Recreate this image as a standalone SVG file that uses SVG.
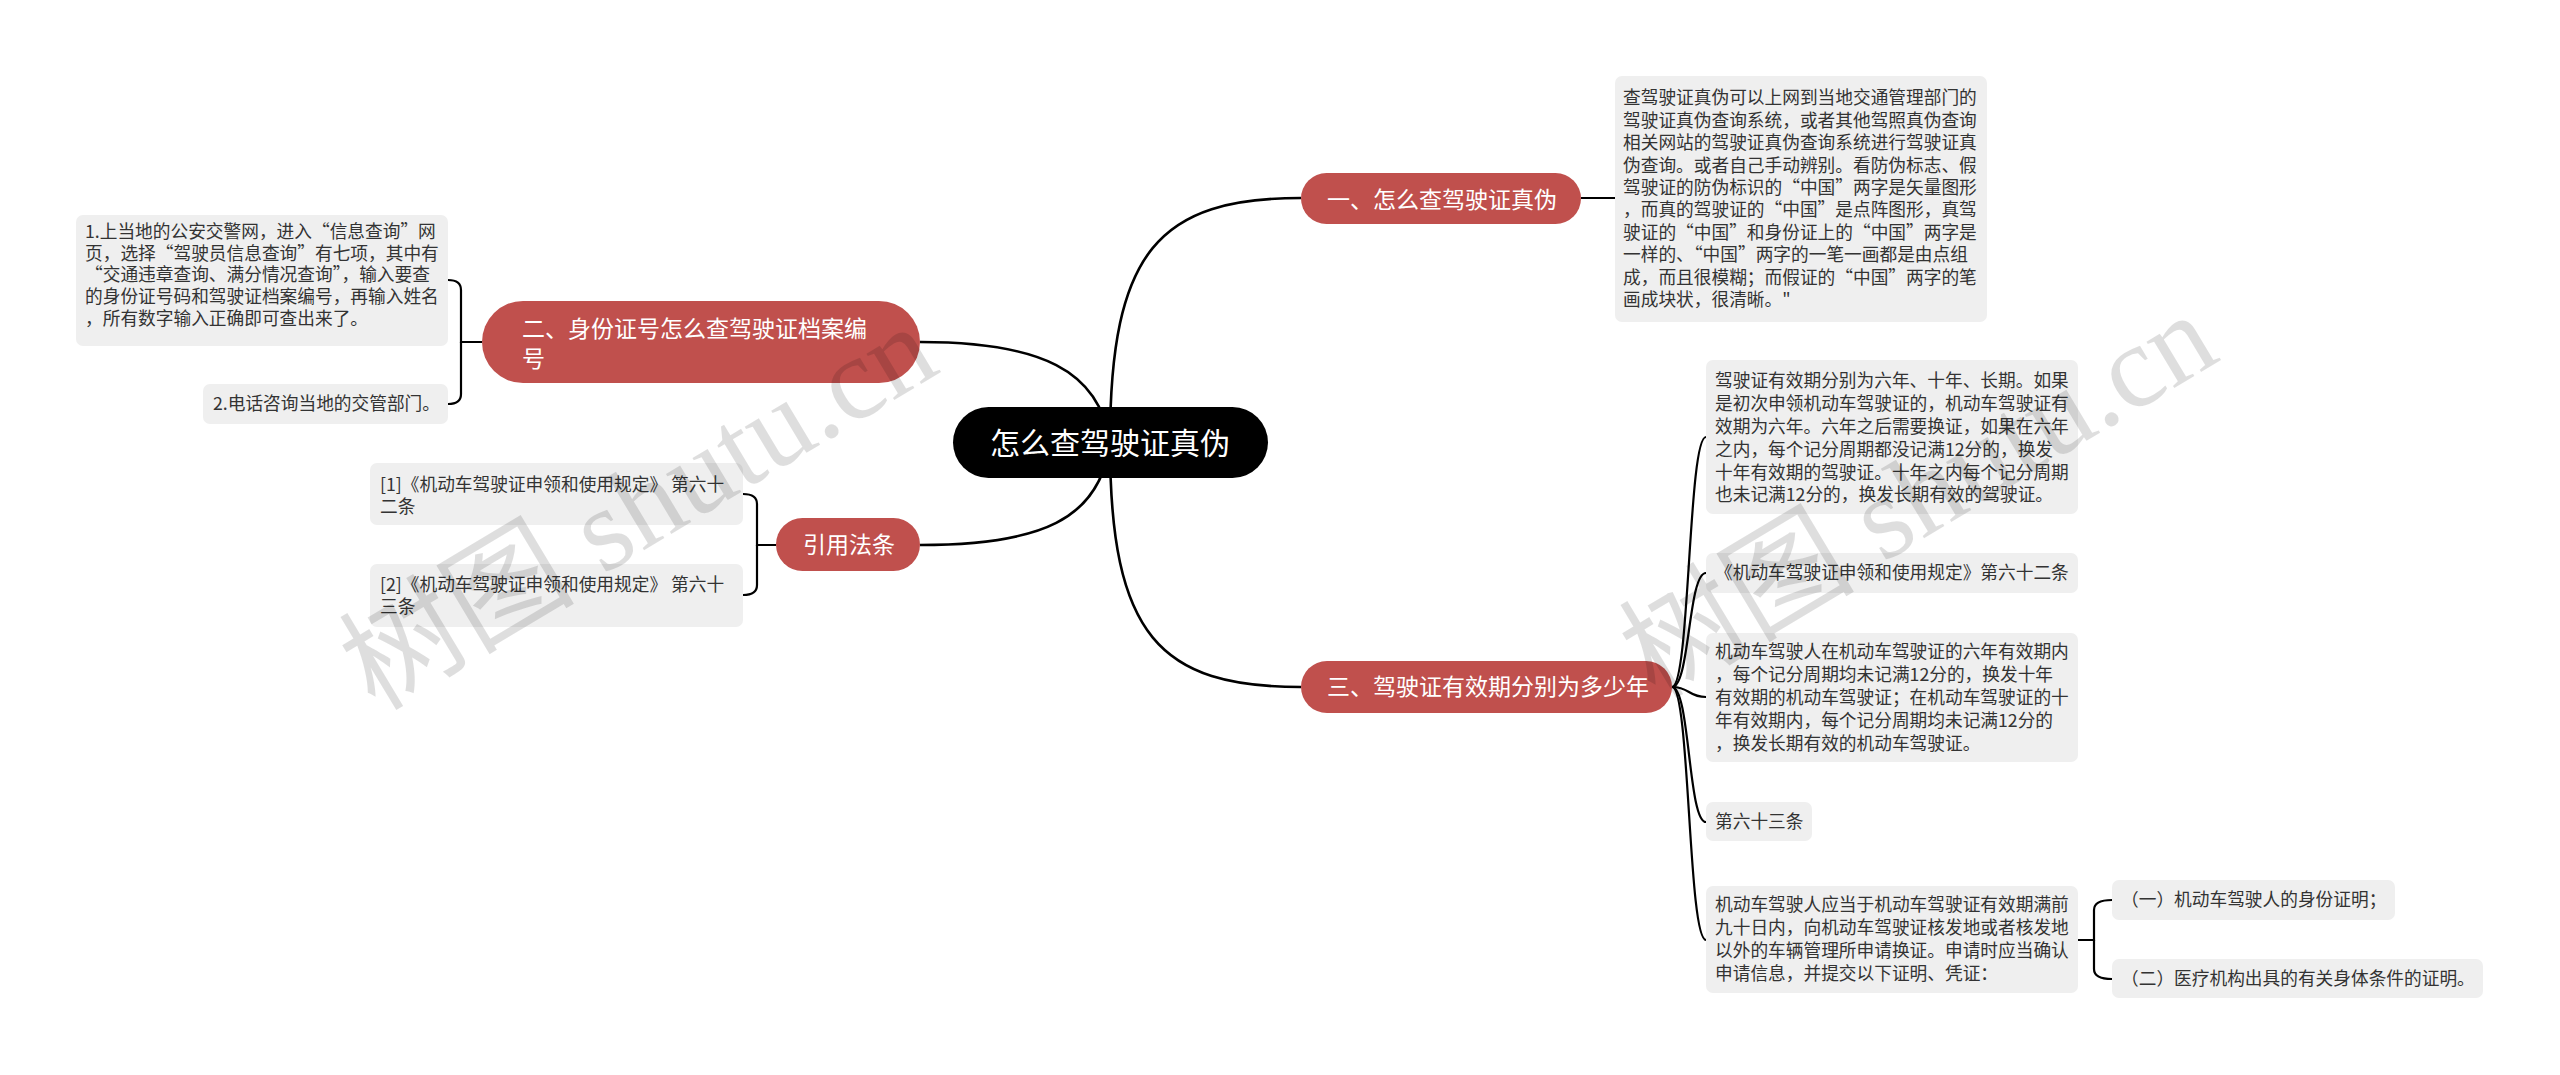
<svg xmlns="http://www.w3.org/2000/svg" width="2560" height="1075" viewBox="0 0 2560 1075">
<style>
text{font-family:"Noto Sans CJK SC","Noto Sans",sans-serif}
.link{fill:none;stroke:#000;stroke-width:2.2}
.main{fill:none;stroke:#000;stroke-width:2.6}
.leaf rect{fill:#efefef}
.leaf text{fill:#333;font-size:17.7px}
.br rect{fill:#c0504d}
.br text{fill:#fff;font-size:23px}
.wm{font-family:"Liberation Serif","Noto Sans CJK SC",serif;font-size:118px;fill:#000;fill-opacity:0.13}
</style>
<rect width="2560" height="1075" fill="#fff"/>
<g id="connectors">
<path class="main" d="M1110,443 C1110,250 1160,198 1301,198"/>
<path class="main" d="M1110,443 C1110,636 1160,687 1301,687"/>
<path class="main" d="M1110,443 C1100,370 1040,342 920,342"/>
<path class="main" d="M1110,443 C1100,520 1040,545 920,545"/>
<path class="link" d="M1581,198 H1615"/>
<path class="link" d="M1672,687 C1690,687 1688,437 1706,437"/>
<path class="link" d="M1672,687 C1690,687 1688,573 1706,573"/>
<path class="link" d="M1672,687 C1690,687 1688,697 1706,697"/>
<path class="link" d="M1672,687 C1690,687 1688,822 1706,822"/>
<path class="link" d="M1672,687 C1690,687 1688,940 1706,940"/>
<path class="link" d="M2078,940 H2094 V910 Q2094,900 2112,900"/>
<path class="link" d="M2094,940 V969 Q2094,979 2112,979"/>
<path class="link" d="M482,342 H461 V290 Q461,280 448,280"/>
<path class="link" d="M461,342 V394 Q461,404 448,404"/>
<path class="link" d="M776,545 H757 V504 Q757,494 743,494"/>
<path class="link" d="M757,545 V585 Q757,595 743,595"/>
</g>
<g id="root">
<rect x="953" y="407" width="315" height="71" rx="35.5" fill="#000"/>
<text x="990" y="453.5" fill="#fff" font-size="30">怎么查驾驶证真伪</text>
</g>
<g id="b1" class="br">
<rect x="1301" y="173" width="280" height="51" rx="25.5"/>
<text x="1327" y="207.5">一、怎么查驾驶证真伪</text>
</g>
<g id="b2" class="br">
<rect x="482" y="301" width="438" height="82" rx="41"/>
<text x="522" y="337">二、身份证号怎么查驾驶证档案编</text>
<text x="522" y="367">号</text>
</g>
<g id="b3" class="br">
<rect x="776" y="518" width="144" height="53" rx="26.5"/>
<text x="803" y="553">引用法条</text>
</g>
<g id="b4" class="br">
<rect x="1301" y="661" width="371" height="52" rx="26"/>
<text x="1327" y="695">三、驾驶证有效期分别为多少年</text>
</g>
<g id="leaf1" class="leaf">
<rect x="1615" y="76" width="372" height="246" rx="7"/>
<text x="1623" y="104.4">查驾驶证真伪可以上网到当地交通管理部门的</text>
<text x="1623" y="126.8">驾驶证真伪查询系统，或者其他驾照真伪查询</text>
<text x="1623" y="149.2">相关网站的驾驶证真伪查询系统进行驾驶证真</text>
<text x="1623" y="171.6">伪查询。或者自己手动辨别。看防伪标志、假</text>
<text x="1623" y="194">驾驶证的防伪标识的“中国”两字是矢量图形</text>
<text x="1623" y="216.4">，而真的驾驶证的“中国”是点阵图形，真驾</text>
<text x="1623" y="238.8">驶证的“中国”和身份证上的“中国”两字是</text>
<text x="1623" y="261.2">一样的、“中国”两字的一笔一画都是由点组</text>
<text x="1623" y="283.6">成，而且很模糊；而假证的“中国”两字的笔</text>
<text x="1623" y="306">画成块状，很清晰。"</text>
</g>
<g id="leafA" class="leaf">
<rect x="1706" y="360" width="372" height="154" rx="7"/>
<text x="1715" y="386.9">驾驶证有效期分别为六年、十年、长期。如果</text>
<text x="1715" y="409.8">是初次申领机动车驾驶证的，机动车驾驶证有</text>
<text x="1715" y="432.7">效期为六年。六年之后需要换证，如果在六年</text>
<text x="1715" y="455.6">之内，每个记分周期都没记满12分的，换发</text>
<text x="1715" y="478.5">十年有效期的驾驶证。十年之内每个记分周期</text>
<text x="1715" y="501.4">也未记满12分的，换发长期有效的驾驶证。</text>
</g>
<g id="leafB" class="leaf">
<rect x="1706" y="553" width="372" height="40" rx="7"/>
<text x="1715" y="579.2">《机动车驾驶证申领和使用规定》第六十二条</text>
</g>
<g id="leafC" class="leaf">
<rect x="1706" y="633" width="372" height="129" rx="7"/>
<text x="1715" y="657.9">机动车驾驶人在机动车驾驶证的六年有效期内</text>
<text x="1715" y="680.8">，每个记分周期均未记满12分的，换发十年</text>
<text x="1715" y="703.7">有效期的机动车驾驶证；在机动车驾驶证的十</text>
<text x="1715" y="726.6">年有效期内，每个记分周期均未记满12分的</text>
<text x="1715" y="749.5">，换发长期有效的机动车驾驶证。</text>
</g>
<g id="leafD" class="leaf">
<rect x="1706" y="802" width="106" height="39" rx="7"/>
<text x="1715" y="828.2">第六十三条</text>
</g>
<g id="leafE" class="leaf">
<rect x="1706" y="886" width="372" height="107" rx="7"/>
<text x="1715" y="911.2">机动车驾驶人应当于机动车驾驶证有效期满前</text>
<text x="1715" y="934.2">九十日内，向机动车驾驶证核发地或者核发地</text>
<text x="1715" y="957.2">以外的车辆管理所申请换证。申请时应当确认</text>
<text x="1715" y="980.2">申请信息，并提交以下证明、凭证：</text>
</g>
<g id="leafF" class="leaf">
<rect x="2112" y="880" width="283" height="40" rx="7"/>
<text x="2121" y="906.2">（一）机动车驾驶人的身份证明；</text>
</g>
<g id="leafG" class="leaf">
<rect x="2112" y="959" width="371" height="39" rx="7"/>
<text x="2121" y="985.2">（二）医疗机构出具的有关身体条件的证明。</text>
</g>
<g id="leafH" class="leaf">
<rect x="76" y="215" width="372" height="131" rx="7"/>
<text x="85" y="237.9">1.上当地的公安交警网，进入“信息查询”网</text>
<text x="85" y="259.6">页，选择“驾驶员信息查询”有七项，其中有</text>
<text x="85" y="281.3">“交通违章查询、满分情况查询”，输入要查</text>
<text x="85" y="303">的身份证号码和驾驶证档案编号，再输入姓名</text>
<text x="85" y="324.7">，所有数字输入正确即可查出来了。</text>
</g>
<g id="leafI" class="leaf">
<rect x="203" y="384" width="245" height="40" rx="7"/>
<text x="213" y="410.2">2.电话咨询当地的交管部门。</text>
</g>
<g id="leafJ" class="leaf">
<rect x="370" y="463" width="373" height="62" rx="7"/>
<text x="380" y="491.2">[1]《机动车驾驶证申领和使用规定》 第六十</text>
<text x="380" y="512.9">二条</text>
</g>
<g id="leafK" class="leaf">
<rect x="370" y="564" width="373" height="63" rx="7"/>
<text x="380" y="591.2">[2]《机动车驾驶证申领和使用规定》 第六十</text>
<text x="380" y="612.9">三条</text>
</g>
<g id="watermark">
<text class="wm" transform="translate(375,712) rotate(-31)">树图 shutu.cn</text>
<text class="wm" transform="translate(1655,700) rotate(-31)">树图 shutu.cn</text>
</g>
</svg>
